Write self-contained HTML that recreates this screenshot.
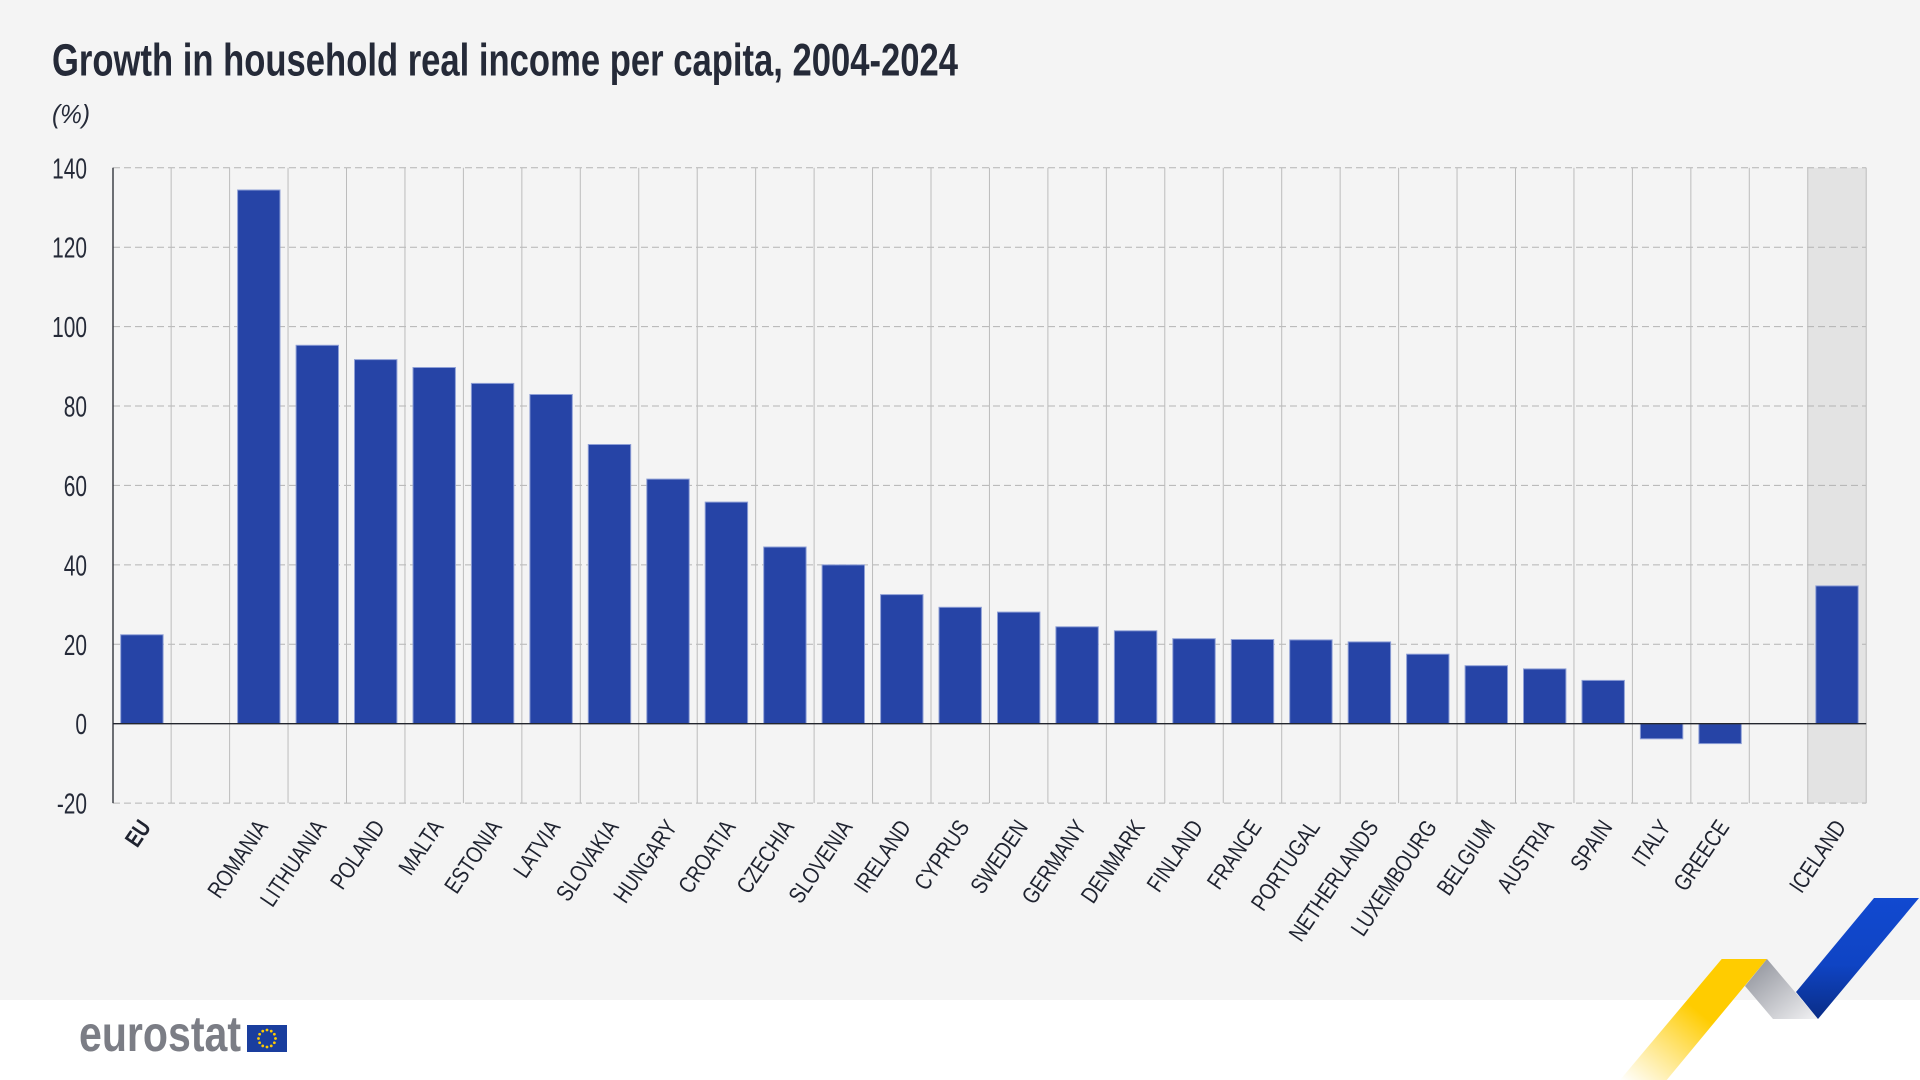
<!DOCTYPE html>
<html>
<head>
<meta charset="utf-8">
<style>
  html,body{margin:0;padding:0;background:#fff;}
  svg{display:block;}
  text{font-family:"Liberation Sans", sans-serif;}
</style>
</head>
<body>
<svg width="1920" height="1080" viewBox="0 0 1920 1080" xmlns="http://www.w3.org/2000/svg">
  <defs>
    <linearGradient id="gBlue" x1="0" y1="0" x2="0" y2="1">
      <stop offset="0" stop-color="#1149d0"/>
      <stop offset="0.55" stop-color="#0f44c4"/>
      <stop offset="1" stop-color="#0a2d86"/>
    </linearGradient>
    <linearGradient id="gGrey" x1="0" y1="0" x2="1" y2="1">
      <stop offset="0" stop-color="#8a8d96"/>
      <stop offset="1" stop-color="#f2f2f4"/>
    </linearGradient>
    <linearGradient id="gYellow" x1="1" y1="0" x2="0" y2="1">
      <stop offset="0" stop-color="#ffcc00"/>
      <stop offset="0.45" stop-color="#ffcc00"/>
      <stop offset="1" stop-color="#ffffff" stop-opacity="0.9"/>
    </linearGradient>
  </defs>

  <!-- backgrounds -->
  <rect x="0" y="0" width="1920" height="1000" fill="#f4f4f4"/>
  <rect x="0" y="1000" width="1920" height="80" fill="#ffffff"/>

  <!-- title -->
  <text x="52" y="75.7" font-size="45" font-weight="bold" fill="#252a38" textLength="906" lengthAdjust="spacingAndGlyphs">Growth in household real income per capita, 2004-2024</text>
  <text x="52" y="123" font-size="26" font-style="italic" fill="#252a38" textLength="38" lengthAdjust="spacingAndGlyphs">(%)</text>

  <!-- Iceland shading -->
  <rect x="1807.75" y="167.8" width="58.45" height="635.3" fill="#e3e3e3"/>

  <!-- horizontal dashed gridlines -->
  <g stroke="#b3b3b3" stroke-width="1" stroke-dasharray="7,4" fill="none">
    <path d="M113 167.8H1866.2 M113 247.2H1866.2 M113 326.6H1866.2 M113 406H1866.2 M113 485.4H1866.2 M113 564.9H1866.2 M113 644.3H1866.2 M113 803.1H1866.2"/>
  </g>

  <!-- vertical gridlines -->
  <g stroke="#bcbcbc" stroke-width="1" fill="none">
    <path d="M171.15 167.8V803.1 M229.6 167.8V803.1 M288.05 167.8V803.1 M346.5 167.8V803.1 M404.95 167.8V803.1 M463.4 167.8V803.1 M521.85 167.8V803.1 M580.3 167.8V803.1 M638.75 167.8V803.1 M697.2 167.8V803.1 M755.65 167.8V803.1 M814.1 167.8V803.1 M872.55 167.8V803.1 M931 167.8V803.1 M989.45 167.8V803.1 M1047.9 167.8V803.1 M1106.35 167.8V803.1 M1164.8 167.8V803.1 M1223.25 167.8V803.1 M1281.7 167.8V803.1 M1340.15 167.8V803.1 M1398.6 167.8V803.1 M1457.05 167.8V803.1 M1515.5 167.8V803.1 M1573.95 167.8V803.1 M1632.4 167.8V803.1 M1690.85 167.8V803.1 M1749.3 167.8V803.1 M1807.75 167.8V803.1 M1866.2 167.8V803.1"/>
  </g>

  <!-- bars -->
  <g fill="#2644a6" stroke="#8e9fd6" stroke-width="1">
    <rect x="120.7" y="634.75" width="42.4" height="88.95"/>
    <rect x="237.6" y="190.0" width="42.4" height="533.7"/>
    <rect x="296.1" y="345.3" width="42.4" height="378.4"/>
    <rect x="354.5" y="359.6" width="42.4" height="364.1"/>
    <rect x="413.0" y="367.5" width="42.4" height="356.2"/>
    <rect x="471.4" y="383.4" width="42.4" height="340.3"/>
    <rect x="529.9" y="394.5" width="42.4" height="329.2"/>
    <rect x="588.3" y="444.5" width="42.4" height="279.2"/>
    <rect x="646.8" y="479.1" width="42.4" height="244.6"/>
    <rect x="705.2" y="502.1" width="42.4" height="221.6"/>
    <rect x="763.7" y="547.0" width="42.4" height="176.7"/>
    <rect x="822.1" y="564.9" width="42.4" height="158.8"/>
    <rect x="880.6" y="594.6" width="42.4" height="129.1"/>
    <rect x="939.0" y="607.3" width="42.4" height="116.4"/>
    <rect x="997.5" y="612.1" width="42.4" height="111.6"/>
    <rect x="1055.9" y="626.8" width="42.4" height="96.9"/>
    <rect x="1114.4" y="630.8" width="42.4" height="92.9"/>
    <rect x="1172.8" y="638.7" width="42.4" height="85.0"/>
    <rect x="1231.3" y="639.5" width="42.4" height="84.2"/>
    <rect x="1289.7" y="639.9" width="42.4" height="83.8"/>
    <rect x="1348.2" y="641.9" width="42.4" height="81.8"/>
    <rect x="1406.6" y="654.2" width="42.4" height="69.5"/>
    <rect x="1465.1" y="665.7" width="42.4" height="58.0"/>
    <rect x="1523.5" y="668.9" width="42.4" height="54.8"/>
    <rect x="1582.0" y="680.4" width="42.4" height="43.3"/>
    <rect x="1640.4" y="723.7" width="42.4" height="15.1"/>
    <rect x="1698.9" y="723.7" width="42.4" height="19.9"/>
    <rect x="1815.8" y="585.9" width="42.4" height="137.8"/>
  </g>

  <!-- zero line and y axis -->
  <path d="M113 723.7H1866.2" stroke="#23262e" stroke-width="1.3" fill="none"/>
  <path d="M113 167.8V803.1" stroke="#23262e" stroke-width="1.3" fill="none"/>

  <!-- y labels -->
  <g font-size="29" fill="#252a38" text-anchor="end">
    <text transform="translate(87,178.3) scale(0.72,1)">140</text>
    <text transform="translate(87,257.7) scale(0.72,1)">120</text>
    <text transform="translate(87,337.1) scale(0.72,1)">100</text>
    <text transform="translate(87,416.5) scale(0.72,1)">80</text>
    <text transform="translate(87,495.9) scale(0.72,1)">60</text>
    <text transform="translate(87,575.4) scale(0.72,1)">40</text>
    <text transform="translate(87,654.8) scale(0.72,1)">20</text>
    <text transform="translate(87,734.2) scale(0.72,1)">0</text>
    <text transform="translate(87,813.6) scale(0.72,1)">-20</text>
  </g>

  <!-- x labels -->
  <g font-size="23.5" fill="#1f2330" text-anchor="end">
    <text transform="translate(151.9,827) rotate(-56) scale(0.8,1)" font-weight="bold">EU</text>
    <text transform="translate(268.8,827) rotate(-56) scale(0.8,1)">ROMANIA</text>
    <text transform="translate(327.3,827) rotate(-56) scale(0.8,1)">LITHUANIA</text>
    <text transform="translate(385.7,827) rotate(-56) scale(0.8,1)">POLAND</text>
    <text transform="translate(444.2,827) rotate(-56) scale(0.8,1)">MALTA</text>
    <text transform="translate(502.6,827) rotate(-56) scale(0.8,1)">ESTONIA</text>
    <text transform="translate(561.1,827) rotate(-56) scale(0.8,1)">LATVIA</text>
    <text transform="translate(619.5,827) rotate(-56) scale(0.8,1)">SLOVAKIA</text>
    <text transform="translate(678.0,827) rotate(-56) scale(0.8,1)">HUNGARY</text>
    <text transform="translate(736.4,827) rotate(-56) scale(0.8,1)">CROATIA</text>
    <text transform="translate(794.9,827) rotate(-56) scale(0.8,1)">CZECHIA</text>
    <text transform="translate(853.3,827) rotate(-56) scale(0.8,1)">SLOVENIA</text>
    <text transform="translate(911.8,827) rotate(-56) scale(0.8,1)">IRELAND</text>
    <text transform="translate(970.2,827) rotate(-56) scale(0.8,1)">CYPRUS</text>
    <text transform="translate(1028.7,827) rotate(-56) scale(0.8,1)">SWEDEN</text>
    <text transform="translate(1087.1,827) rotate(-56) scale(0.8,1)">GERMANY</text>
    <text transform="translate(1145.6,827) rotate(-56) scale(0.8,1)">DENMARK</text>
    <text transform="translate(1204.0,827) rotate(-56) scale(0.8,1)">FINLAND</text>
    <text transform="translate(1262.5,827) rotate(-56) scale(0.8,1)">FRANCE</text>
    <text transform="translate(1320.9,827) rotate(-56) scale(0.8,1)">PORTUGAL</text>
    <text transform="translate(1379.4,827) rotate(-56) scale(0.8,1)">NETHERLANDS</text>
    <text transform="translate(1437.8,827) rotate(-56) scale(0.8,1)">LUXEMBOURG</text>
    <text transform="translate(1496.3,827) rotate(-56) scale(0.8,1)">BELGIUM</text>
    <text transform="translate(1554.7,827) rotate(-56) scale(0.8,1)">AUSTRIA</text>
    <text transform="translate(1613.2,827) rotate(-56) scale(0.8,1)">SPAIN</text>
    <text transform="translate(1671.6,827) rotate(-56) scale(0.8,1)">ITALY</text>
    <text transform="translate(1730.1,827) rotate(-56) scale(0.8,1)">GREECE</text>
    <text transform="translate(1847.0,827) rotate(-56) scale(0.8,1)">ICELAND</text>
  </g>

  <!-- decorative ribbons -->
  <polygon points="1721.7,959 1767,959 1666.7,1080 1620,1080" fill="url(#gYellow)"/>
  <polygon points="1767,959 1818,1019 1773,1019 1745,986" fill="url(#gGrey)"/>
  <polygon points="1874,898 1919,898 1818,1019 1796,992" fill="url(#gBlue)"/>

  <!-- eurostat logo -->
  <text x="79" y="1051" font-size="50" font-weight="bold" fill="#7b7d85" textLength="162" lengthAdjust="spacingAndGlyphs">eurostat</text>
  <rect x="247" y="1025" width="40" height="27" fill="#1a3e9e"/>
  <g fill="#ffcc00">
    <circle cx="267" cy="1030" r="1.4"/>
    <circle cx="271.25" cy="1031.14" r="1.4"/>
    <circle cx="274.36" cy="1034.25" r="1.4"/>
    <circle cx="275.5" cy="1038.5" r="1.4"/>
    <circle cx="274.36" cy="1042.75" r="1.4"/>
    <circle cx="271.25" cy="1045.86" r="1.4"/>
    <circle cx="267" cy="1047" r="1.4"/>
    <circle cx="262.75" cy="1045.86" r="1.4"/>
    <circle cx="259.64" cy="1042.75" r="1.4"/>
    <circle cx="258.5" cy="1038.5" r="1.4"/>
    <circle cx="259.64" cy="1034.25" r="1.4"/>
    <circle cx="262.75" cy="1031.14" r="1.4"/>
  </g>
</svg>
</body>
</html>
